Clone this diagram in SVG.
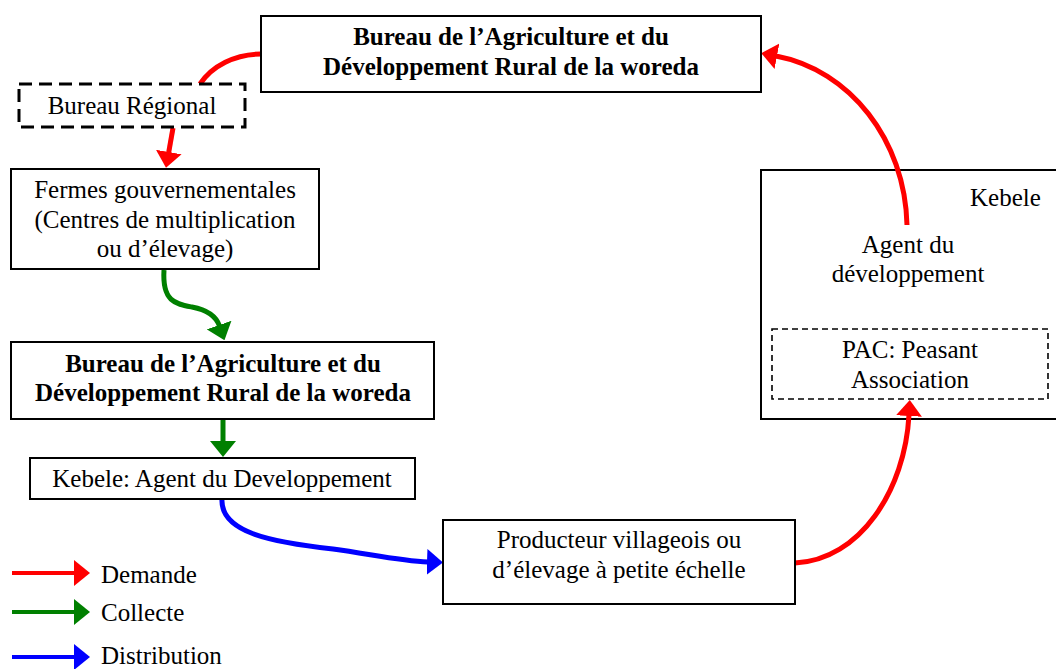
<svg xmlns="http://www.w3.org/2000/svg" width="1056" height="669" viewBox="0 0 1056 669">
  <style>
    .box { fill: #fff; stroke: #000; stroke-width: 2; }
    .dash-thick { fill: #fff; stroke: #000; stroke-width: 3; stroke-dasharray: 13 7; }
    .dash-thin { fill: none; stroke: #000; stroke-width: 1.6; stroke-dasharray: 6 4; }
    .t { font-family: "Liberation Serif", "Times New Roman", serif; font-size: 25px; fill: #000; }
    .c { text-anchor: middle; }
    .b { font-weight: bold; }
    .red { fill: none; stroke: #ff0000; stroke-width: 5; }
    .green { fill: none; stroke: #008000; stroke-width: 5; }
    .blue { fill: none; stroke: #0000ff; stroke-width: 5; }
  </style>
  <defs>
    <marker id="ah-red" markerUnits="userSpaceOnUse" markerWidth="16" markerHeight="26" viewBox="0 0 16 26" refX="1" refY="13" orient="auto">
      <path d="M0,0 L16,13 L0,26 Z" fill="#ff0000"/>
    </marker>
    <marker id="ah-green" markerUnits="userSpaceOnUse" markerWidth="16" markerHeight="26" viewBox="0 0 16 26" refX="1" refY="13" orient="auto">
      <path d="M0,0 L16,13 L0,26 Z" fill="#008000"/>
    </marker>
    <marker id="ah-blue" markerUnits="userSpaceOnUse" markerWidth="16" markerHeight="26" viewBox="0 0 16 26" refX="1" refY="13" orient="auto">
      <path d="M0,0 L16,13 L0,26 Z" fill="#0000ff"/>
    </marker>
  </defs>

  <rect width="1056" height="669" fill="#fff"/>

  <!-- Kebele container -->
  <g id="kebele">
    <rect class="box" x="761" y="170" width="300" height="249"/>
    <text class="t" x="970" y="206">Kebele</text>
    <text class="t c" x="908" y="253">Agent du</text>
    <text class="t c" x="908" y="282">développement</text>
  </g>

  <g id="pac">
    <rect class="dash-thin" x="772" y="329" width="276" height="70"/>
    <text class="t c" x="910" y="358">PAC: Peasant</text>
    <text class="t c" x="910" y="388">Association</text>
  </g>

  <!-- connectors -->
  <g id="connectors">
    <path class="red" d="M261,54 C235,54 212,66 200,84"/>
    <path class="red" d="M173,128 L168.6,153" marker-end="url(#ah-red)"/>
    <path class="green" d="M164,270 C162,302 176,304 192,307 C208,310 216,316 219.5,326" marker-end="url(#ah-green)"/>
    <path class="green" d="M223,420 L223,442" marker-end="url(#ah-green)"/>
    <path class="blue" d="M222,499 C220,532 270,542 333,549 C370,554 400,561 428,562" marker-end="url(#ah-blue)"/>
    <path class="red" d="M795,563 C860,560 905,490 909,415" marker-end="url(#ah-red)"/>
    <path class="red" d="M907,225 C905,140 850,70 776,56" marker-end="url(#ah-red)"/>
  </g>

  <g id="bureau-woreda-top">
    <rect class="box" x="261" y="16" width="500" height="76"/>
    <text class="t c b" x="511" y="45">Bureau de l’Agriculture et du</text>
    <text class="t c b" x="511" y="75">Développement Rural de la woreda</text>
  </g>

  <g id="bureau-regional">
    <rect class="dash-thick" x="19" y="84" width="226" height="43"/>
    <text class="t c" x="132" y="114">Bureau Régional</text>
  </g>

  <g id="fermes">
    <rect class="box" x="11" y="169" width="308" height="100"/>
    <text class="t c" x="165" y="198">Fermes gouvernementales</text>
    <text class="t c" x="165" y="228">(Centres de multiplication</text>
    <text class="t c" x="165" y="257">ou d’élevage)</text>
  </g>

  <g id="bureau-woreda">
    <rect class="box" x="11" y="342" width="423" height="77"/>
    <text class="t c b" x="223" y="372">Bureau de l’Agriculture et du</text>
    <text class="t c b" x="223" y="401">Développement Rural de la woreda</text>
  </g>

  <g id="kebele-agent">
    <rect class="box" x="30" y="458" width="385" height="41"/>
    <text class="t c" x="222" y="487">Kebele: Agent du Developpement</text>
  </g>

  <g id="producteur">
    <rect class="box" x="443" y="520" width="352" height="84"/>
    <text class="t c" x="619" y="548">Producteur villageois ou</text>
    <text class="t c" x="619" y="578">d’élevage à petite échelle</text>
  </g>

  <!-- legend -->
  <g id="legend">
    <path d="M12,573 L75,573" stroke="#ff0000" stroke-width="4" marker-end="url(#ah-red)"/>
    <text class="t" x="101" y="583">Demande</text>
    <path d="M12,612 L75,612" stroke="#008000" stroke-width="4" marker-end="url(#ah-green)"/>
    <text class="t" x="101" y="621">Collecte</text>
    <path d="M12,657 L75,657" stroke="#0000ff" stroke-width="4" marker-end="url(#ah-blue)"/>
    <text class="t" x="101" y="664">Distribution</text>
  </g>
</svg>
